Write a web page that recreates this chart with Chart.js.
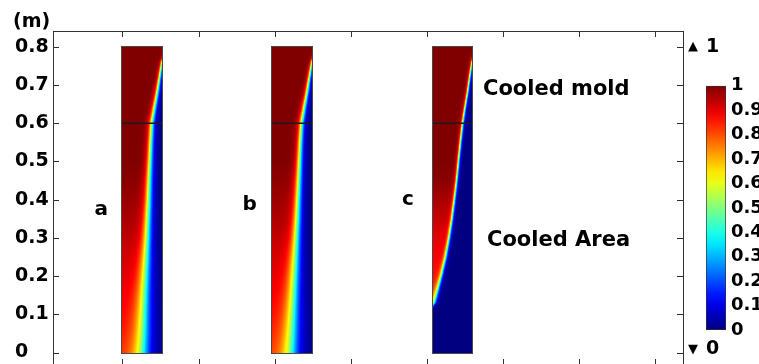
<!DOCTYPE html>
<html>
<head>
<meta charset="utf-8">
<script src="https://cdn.jsdelivr.net/npm/chart.js@4.4.1/dist/chart.umd.min.js"></script>
<style>
html, body { margin: 0; padding: 0; background: #fff; overflow: hidden; width: 759px; height: 364px; }
#wrap { position: relative; width: 759px; height: 364px; overflow: hidden; }
#main { position: absolute; left: 0; top: 0; }
#bar { position: absolute; left: 700px; top: 70px; }
</style>
</head>
<body>
<div id="wrap">
<canvas id="main" width="759" height="377"></canvas>
<canvas id="bar" width="100" height="285"></canvas>
</div>
<script>
// axes
const yTicks = [0, 0.1, 0.2, 0.3, 0.4, 0.5, 0.6, 0.7, 0.8];
const xTicks = [0, 0.1, 0.2, 0.3, 0.4, 0.5, 0.6, 0.7];
const cbTicks = [0, 0.1, 0.2, 0.3, 0.4, 0.5, 0.6, 0.7, 0.8, 0.9, 1];

// the three molds (a, b, c)
const panelNames = ['a', 'b', 'c'];
const panelLeft = [0, 0.197, 0.408];
const panelRight = [0.052, 0.249, 0.459];
const panelBottom = 0;
const panelTop = 0.8;
const moldLevel = 0.6;

// profile of the field across each mold, row by row (height in m)
// front = position (0..1 of width) where value = 0.5, spread = width of the transition,
// edge = value on the left wall
const abRows   = [0, 0.05, 0.1, 0.15, 0.2, 0.25, 0.3, 0.35, 0.4, 0.45, 0.5, 0.55, 0.6, 0.64, 0.68, 0.72, 0.76, 0.8];
const aFront   = [0.48, 0.51, 0.53, 0.55, 0.575, 0.6, 0.625, 0.645, 0.665, 0.68, 0.7, 0.72, 0.745, 0.81, 0.88, 0.94, 1.0, 1.15];
const aSpread  = [0.135, 0.125, 0.115, 0.105, 0.095, 0.085, 0.075, 0.068, 0.062, 0.057, 0.052, 0.048, 0.045, 0.04, 0.035, 0.03, 0.025, 0.02];
const aEdge    = [0.84, 0.86, 0.875, 0.89, 0.905, 0.92, 0.94, 0.96, 0.975, 0.99, 1, 1, 1, 1, 1, 1, 1, 1];
const bFront   = [0.45, 0.48, 0.505, 0.53, 0.555, 0.58, 0.605, 0.63, 0.65, 0.67, 0.69, 0.71, 0.74, 0.805, 0.875, 0.935, 1.0, 1.15];
const bSpread  = [0.135, 0.125, 0.115, 0.105, 0.095, 0.085, 0.075, 0.068, 0.062, 0.057, 0.052, 0.048, 0.045, 0.04, 0.035, 0.03, 0.025, 0.02];
const bEdge    = [0.83, 0.85, 0.87, 0.885, 0.9, 0.915, 0.935, 0.955, 0.97, 0.985, 1, 1, 1, 1, 1, 1, 1, 1];
const cRows    = [0, 0.1, 0.11, 0.12, 0.13, 0.15, 0.17, 0.2, 0.25, 0.3, 0.35, 0.4, 0.45, 0.5, 0.55, 0.6, 0.64, 0.68, 0.72, 0.76, 0.8];
const cFront   = [-0.6, -0.5, -0.25, -0.06, 0.02, 0.074, 0.127, 0.205, 0.32, 0.41, 0.485, 0.547, 0.606, 0.653, 0.704, 0.76, 0.82, 0.885, 0.94, 1.0, 1.15];
const cSpread  = [0.04, 0.04, 0.04, 0.04, 0.04, 0.038, 0.035, 0.032, 0.03, 0.028, 0.027, 0.026, 0.025, 0.025, 0.025, 0.025, 0.024, 0.023, 0.022, 0.021, 0.02];
const cEdge    = [0.7, 0.7, 0.72, 0.74, 0.77, 0.8, 0.83, 0.86, 0.88, 0.9, 0.93, 0.96, 0.99, 1, 1, 1, 1, 1, 1, 1, 1];

const fields = [
    { rows: abRows, front: aFront, spread: aSpread, edge: aEdge },
    { rows: abRows, front: bFront, spread: bSpread, edge: bEdge },
    { rows: cRows, front: cFront, spread: cSpread, edge: cEdge }
];

const boldFont = 'DejaVu Sans';

function jet(v) {
    const c = t => Math.round(255 * Math.max(0, Math.min(1, 1.5 - Math.abs(t))));
    return 'rgb(' + c(4 * v - 3) + ',' + c(4 * v - 2) + ',' + c(4 * v - 1) + ')';
}

function atHeight(rows, vals, h) {
    if (h <= rows[0]) return vals[0];
    for (let i = 1; i < rows.length; i++) {
        if (h <= rows[i]) {
            const t = (h - rows[i - 1]) / (rows[i] - rows[i - 1]);
            return vals[i - 1] + t * (vals[i] - vals[i - 1]);
        }
    }
    return vals[vals.length - 1];
}

// paints the mold fields through the chart scales
const fieldPlugin = {
    id: 'field',
    beforeDatasetsDraw(chart) {
        const { ctx, scales: { x, y } } = chart;
        ctx.save();
        fields.forEach((p, i) => {
            const px0 = Math.round(x.getPixelForValue(panelLeft[i]));
            const px1 = Math.round(x.getPixelForValue(panelRight[i]));
            const py0 = Math.round(y.getPixelForValue(panelTop));
            const py1 = Math.round(y.getPixelForValue(panelBottom));
            for (let py = py0; py < py1; py++) {
                const h = y.getValueForPixel(py + 0.5);
                const fc = atHeight(p.rows, p.front, h);
                const s = atHeight(p.rows, p.spread, h);
                const e = atHeight(p.rows, p.edge, h);
                for (let px = px0; px < px1; px++) {
                    const f = (px + 0.5 - px0) / (px1 - px0);
                    const sg = 1 / (1 + Math.exp(-(fc - f) / s));
                    const v = f < fc ? 0.5 + (e - 0.5) * (2 * sg - 1) : sg;
                    ctx.fillStyle = jet(v);
                    ctx.fillRect(px, py, 1, 1);
                }
            }
            ctx.strokeStyle = '#4a4a4a';
            ctx.lineWidth = 1;
            ctx.strokeRect(px0 - 0.5, py0 - 0.5, px1 - px0 + 1, py1 - py0 + 1);
        });
        ctx.restore();
    }
};

// frame, inward ticks and the text
const framePlugin = {
    id: 'frame',
    afterDraw(chart) {
        const { ctx, chartArea: a, scales: { x, y } } = chart;
        ctx.save();
        ctx.strokeStyle = '#333';
        ctx.lineWidth = 1;
        ctx.strokeRect(Math.round(a.left) + 0.5, Math.round(a.top) + 0.5, Math.round(a.right - a.left), Math.round(a.bottom - a.top));
        ctx.beginPath();
        yTicks.forEach(v => {
            const py = Math.round(y.getPixelForValue(v)) + 0.5;
            ctx.moveTo(a.left, py); ctx.lineTo(a.left + 6, py);
            ctx.moveTo(a.right, py); ctx.lineTo(a.right - 6, py);
        });
        xTicks.forEach(v => {
            const px = Math.round(x.getPixelForValue(v)) + 0.5;
            ctx.moveTo(px, a.top); ctx.lineTo(px, a.top + 6);
            ctx.moveTo(px, a.bottom); ctx.lineTo(px, a.bottom - 6);
        });
        ctx.stroke();

        ctx.fillStyle = '#000';
        ctx.textBaseline = 'middle';
        ctx.textAlign = 'left';
        ctx.font = 'bold 19px ' + boldFont;
        ctx.fillText('(m)', 13, 22);

        ctx.font = 'bold 20px ' + boldFont;
        ctx.textAlign = 'center';
        const letterX = [-0.028, 0.167, 0.375];
        const letterY = [0.373, 0.386, 0.399];
        panelNames.forEach((n, i) => {
            ctx.fillText(n, x.getPixelForValue(letterX[i]), y.getPixelForValue(letterY[i]));
        });

        ctx.textAlign = 'left';
        ctx.font = 'bold 21px ' + boldFont;
        ctx.fillText('Cooled mold', x.getPixelForValue(0.4737), y.getPixelForValue(0.689));
        ctx.fillText('Cooled Area', x.getPixelForValue(0.479), y.getPixelForValue(0.294));

        // range markers on the right
        const top = y.getPixelForValue(0.8), bot = y.getPixelForValue(0) - 3;
        ctx.font = '13px ' + boldFont;
        ctx.fillText('\u25B2', a.right + 5, top);
        ctx.fillText('\u25BC', a.right + 5, bot);
        ctx.font = 'bold 19px ' + boldFont;
        ctx.fillText('1', a.right + 23, top);
        ctx.fillText('0', a.right + 23, bot);
        ctx.restore();
    }
};

const main = new Chart(document.getElementById('main'), {
    type: 'scatter',
    data: {
        datasets: panelNames.map((n, i) => ({
            label: n,
            data: [{ x: panelLeft[i], y: moldLevel }, { x: panelRight[i], y: moldLevel }],
            showLine: true,
            borderColor: '#1a1a1a',
            borderWidth: 1.5,
            pointRadius: 0
        }))
    },
    options: {
        responsive: false,
        animation: false,
        layout: { padding: { left: 15, right: 76, top: 31, bottom: 12 } },
        plugins: { legend: { display: false }, tooltip: { enabled: false } },
        scales: {
            x: {
                type: 'linear',
                display: false,
                min: -0.0913,
                max: 0.7365
            },
            y: {
                min: -0.0327,
                max: 0.8411,
                afterBuildTicks: s => { s.ticks = yTicks.map(v => ({ value: v })); },
                afterFit: s => { s.width = 38; },
                grid: { display: false, drawTicks: false },
                border: { display: false },
                ticks: {
                    crossAlign: 'far',
                    padding: 0,
                    autoSkip: false,
                    color: '#000',
                    font: { family: boldFont, size: 19, weight: 'bold' },
                    callback: v => String(v)
                }
            }
        }
    },
    plugins: [fieldPlugin, framePlugin]
});

// colour bar
const colorBar = new Chart(document.getElementById('bar'), {
    type: 'bar',
    data: {
        labels: [''],
        datasets: [{
            data: [[0, 1]],
            backgroundColor: function(c) {
                const a = c.chart.chartArea;
                if (!a) return null;
                const g = c.chart.ctx.createLinearGradient(0, a.bottom, 0, a.top);
                for (let i = 0; i <= 20; i++) g.addColorStop(i / 20, jet(i / 20));
                return g;
            },
            borderColor: '#333',
            borderWidth: 1,
            borderSkipped: false,
            barPercentage: 1,
            categoryPercentage: 1
        }]
    },
    options: {
        responsive: false,
        animation: false,
        layout: { padding: { left: 6, top: 15, bottom: 25, right: 0 } },
        plugins: { legend: { display: false }, tooltip: { enabled: false } },
        scales: {
            x: { display: false },
            y: {
                position: 'right',
                min: 0,
                max: 1,
                afterBuildTicks: s => { s.ticks = cbTicks.map(v => ({ value: v })); },
                afterFit: s => { s.width = 74; },
                grid: { display: false, drawTicks: false },
                border: { display: false },
                ticks: {
                    padding: 5,
                    autoSkip: false,
                    color: '#000',
                    font: { family: boldFont, size: 18, weight: 'bold' },
                    callback: v => String(v)
                }
            }
        }
    }
});
</script>
</body>
</html>
